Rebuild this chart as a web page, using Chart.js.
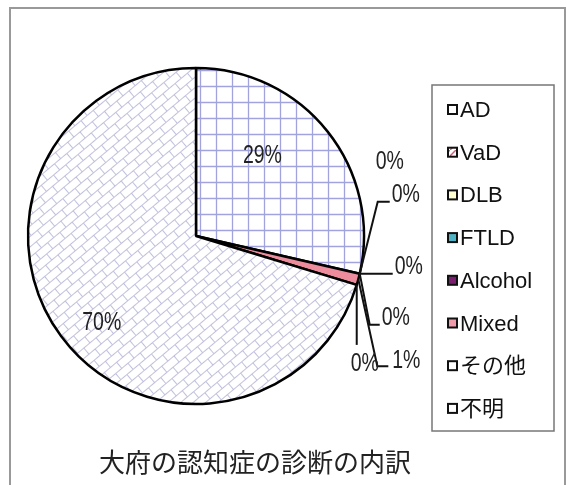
<!DOCTYPE html>
<html>
<head>
<meta charset="utf-8">
<script src="https://cdn.jsdelivr.net/npm/chart.js@4.4.1/dist/chart.umd.min.js"></script>
<style>
  html, body { margin: 0; padding: 0; background: #fff; overflow: hidden; }
  #wrap { position: relative; width: 567px; height: 485px; }
  canvas { position: absolute; left: 0; top: 0; }
</style>
</head>
<body>
<div id="wrap"><canvas id="pie" width="567" height="485"></canvas></div>
<script>
const categories = ['AD', 'VaD', 'DLB', 'FTLD', 'Alcohol', 'Mixed', 'その他', '不明'];
const shares = [28.6, 0, 0, 0, 0, 1.1, 0, 70.3];
const chartTitle = '大府の認知症の診断の内訳';

const canvas = document.getElementById('pie');
const ctx = canvas.getContext('2d');

// blue square grid (AD slice)
function gridPattern() {
    const c = document.createElement('canvas');
    c.width = 16; c.height = 16;
    const g = c.getContext('2d');
    g.fillStyle = '#fff';
    g.fillRect(0, 0, 16, 16);
    g.strokeStyle = '#a2a2dc';
    g.lineWidth = 1.3;
    g.beginPath();
    g.moveTo(8.5, 0); g.lineTo(8.5, 16);
    g.moveTo(0, 6.5); g.lineTo(16, 6.5);
    g.stroke();
    return ctx.createPattern(c, 'repeat');
}

// diagonal brick (不明 slice)
function brickPattern() {
    const w = 16, h = 8;
    const c = document.createElement('canvas');
    c.width = w; c.height = h * 2;
    const g = c.getContext('2d');
    g.fillStyle = '#fff';
    g.fillRect(0, 0, w, h * 2);
    g.strokeStyle = '#c0c0dc';
    g.lineWidth = 1;
    g.beginPath();
    g.moveTo(0, 0.5); g.lineTo(w, 0.5);
    g.moveTo(0, h + 0.5); g.lineTo(w, h + 0.5);
    g.moveTo(0.5, 0); g.lineTo(0.5, h);
    g.moveTo(w / 2 + 0.5, h); g.lineTo(w / 2 + 0.5, h * 2);
    g.stroke();
    const p = ctx.createPattern(c, 'repeat');
    p.setTransform(new DOMMatrix().rotate(-40));
    return p;
}

function stripePattern() {
    const c = document.createElement('canvas');
    c.width = 6; c.height = 6;
    const g = c.getContext('2d');
    g.fillStyle = '#fff';
    g.fillRect(0, 0, 6, 6);
    g.strokeStyle = '#d0607a';
    g.lineWidth = 1.5;
    g.beginPath();
    g.moveTo(0, 6); g.lineTo(6, 0);
    g.stroke();
    return ctx.createPattern(c, 'repeat');
}

const grid = gridPattern();
const brick = brickPattern();
const stripe = stripePattern();

const sliceFills = [grid, stripe, '#ffffc8', '#4fb3c4', '#7a1f6f', '#ec8c9c', '#ffffff', brick];
const swatchFills = ['#ffffff', stripe, '#ffffd0', '#4fb3c4', '#7a1f6f', '#f29aaa', '#ffffff', '#ffffff'];

// label placement: inside = fraction of radius for the anchor, otherwise anchor is on the rim
// dx/dy shift the label from the anchor, leader points are relative to the anchor
const labelLayout = [
    { inside: 0.65, dx: -19, dy: -13 },
    { dx: 30, dy: -113 },
    { dx: 46, dy: -80, leader: [[0, 0], [18, -72], [30, -72]] },
    { dx: 49, dy: -8, leader: [[0, 0], [33, 0]] },
    { dx: 36, dy: 43, leader: [[0, 0], [10, 51], [20, 51]] },
    { dx: 48, dy: 81, leader: [[0, 0], [19, 87], [30, 87]] },
    { dx: 8, dy: 78, leader: [[0, 0], [0, 60]] },
    { inside: 0.75, dx: 7, dy: 11 }
];

const decorPlugin = {
    id: 'decor',
    beforeDraw(chart) {
        const c = chart.ctx;
        c.save();
        c.fillStyle = '#fff';
        c.fillRect(0, 0, chart.width, chart.height);
        c.strokeStyle = '#999';
        c.lineWidth = 2;
        c.beginPath();
        c.moveTo(10, 490); c.lineTo(10, 8); c.lineTo(565, 8); c.lineTo(565, 490);
        c.stroke();
        c.restore();
    },
    afterDraw(chart) {
        const c = chart.ctx;
        const meta = chart.getDatasetMeta(0);
        const values = chart.data.datasets[0].data;
        const total = values.reduce((a, b) => a + b, 0);

        c.save();
        // data labels
        meta.data.forEach((arc, i) => {
            const p = arc.getProps(['x', 'y', 'startAngle', 'endAngle', 'outerRadius'], true);
            const mid = (p.startAngle + p.endAngle) / 2;
            const lay = labelLayout[i];
            const rr = p.outerRadius * (lay.inside || 1);
            const ax = p.x + Math.cos(mid) * rr;
            const ay = p.y + Math.sin(mid) * rr;
            if (lay.leader) {
                c.strokeStyle = '#111';
                c.lineWidth = 2;
                c.beginPath();
                lay.leader.forEach((pt, k) => {
                    if (k === 0) c.moveTo(ax + pt[0], ay + pt[1]);
                    else c.lineTo(ax + pt[0], ay + pt[1]);
                });
                c.stroke();
            }
            const txt = Math.round(values[i] / total * 100) + '%';
            c.save();
            c.translate(ax + lay.dx, ay + lay.dy);
            c.scale(0.78, 1);
            c.font = '25px "Liberation Sans", Arial, sans-serif';
            c.fillStyle = '#222';
            c.textAlign = 'center';
            c.textBaseline = 'middle';
            c.fillText(txt, 0, 1);
            c.restore();
        });

        // legend box
        const lx = 432, ly = 85, lw = 122, lh = 346;
        c.strokeStyle = '#777';
        c.lineWidth = 1.5;
        c.strokeRect(lx, ly, lw, lh);
        c.font = '22px "Liberation Sans", "Noto Sans CJK JP", sans-serif';
        c.textBaseline = 'middle';
        c.textAlign = 'left';
        chart.data.labels.forEach((name, i) => {
            const cy = ly + 25 + i * 42.7;
            c.fillStyle = swatchFills[i];
            c.fillRect(448, cy - 5, 9, 9);
            c.strokeStyle = '#111';
            c.lineWidth = 2;
            c.strokeRect(448, cy - 5, 9, 9);
            c.fillStyle = '#111';
            c.fillText(name, 460, cy + 1);
        });

        // title
        c.font = '26px "Noto Sans CJK JP", sans-serif';
        c.fillStyle = '#222';
        c.textAlign = 'center';
        c.fillText(chartTitle, 255, 462);
        c.restore();
    }
};

new Chart(canvas, {
    type: 'pie',
    data: {
        labels: categories,
        datasets: [{
            data: shares,
            backgroundColor: sliceFills,
            borderColor: '#000',
            borderWidth: 2.5,
            radius: 168
        }]
    },
    options: {
        responsive: false,
        animation: false,
        layout: { padding: { left: 28, right: 203, top: 68, bottom: 81 } },
        plugins: {
            legend: { display: false },
            title: { display: false },
            tooltip: { enabled: false }
        }
    },
    plugins: [decorPlugin]
});
</script>
</body>
</html>
